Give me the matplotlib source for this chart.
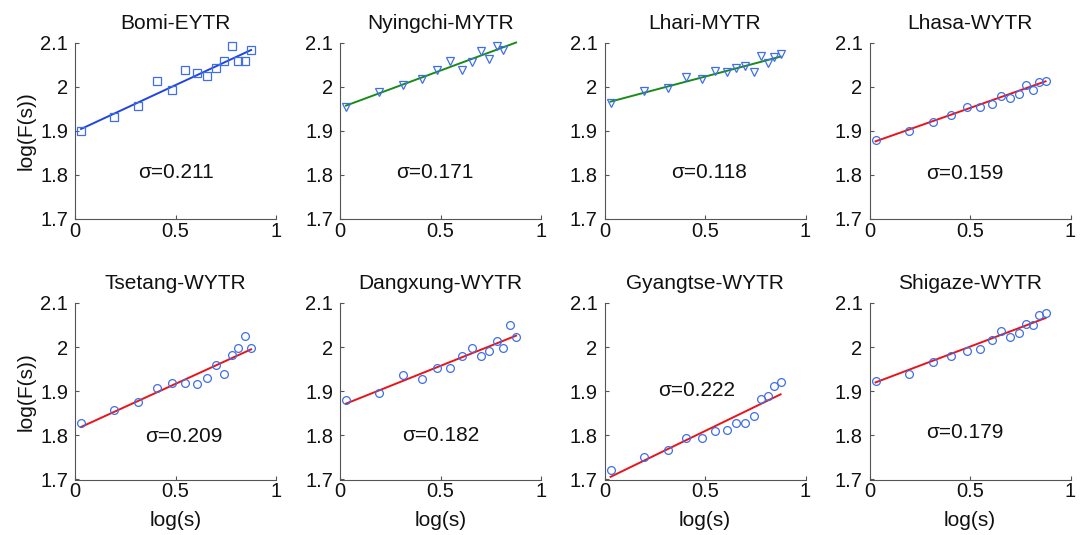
import matplotlib
matplotlib.use("Agg")
import matplotlib.pyplot as plt
from matplotlib.ticker import FixedLocator, FuncFormatter

plt.rcParams['font.family'] = ['Liberation Sans', 'DejaVu Sans']

# ---- data ----
titles = ["Bomi-EYTR", "Nyingchi-MYTR", "Lhari-MYTR", "Lhasa-WYTR",
          "Tsetang-WYTR", "Dangxung-WYTR", "Gyangtse-WYTR", "Shigaze-WYTR"]
sigmas = ["0.211", "0.171", "0.118", "0.159", "0.209", "0.182", "0.222", "0.179"]

log_s = [0.03, 0.195, 0.315, 0.407, 0.484, 0.549, 0.607, 0.656, 0.701, 0.742,
         0.779, 0.812, 0.845, 0.876]

bomi = [1.900, 1.931, 1.957, 2.013, 1.993, 2.037, 2.031, 2.024, 2.043, 2.058,
        2.091, 2.058, 2.058, 2.082]
nyingchi = [1.954, 1.988, 2.003, 2.018, 2.037, 2.058, 2.038, 2.055, 2.081, 2.063,
            2.093, 2.082]
lhari = [1.964, 1.991, 1.998, 2.022, 2.018, 2.036, 2.034, 2.043, 2.046, 2.034,
         2.070, 2.053, 2.068, 2.074]
lhasa = [1.880, 1.900, 1.920, 1.935, 1.953, 1.954, 1.961, 1.978, 1.975, 1.984,
         2.004, 1.993, 2.010, 2.012]
tsetang = [1.829, 1.858, 1.876, 1.908, 1.919, 1.919, 1.916, 1.931, 1.960, 1.939,
           1.983, 1.997, 2.025, 1.999]
dangxung = [1.880, 1.897, 1.936, 1.928, 1.952, 1.953, 1.980, 1.997, 1.980, 1.991,
            2.014, 1.999, 2.051, 2.024]
gyangtse = [1.721, 1.752, 1.766, 1.795, 1.794, 1.809, 1.812, 1.829, 1.829, 1.843,
            1.883, 1.889, 1.911, 1.920]
shigaze = [1.923, 1.940, 1.966, 1.981, 1.991, 1.996, 2.017, 2.037, 2.022, 2.033,
           2.053, 2.051, 2.072, 2.078]

series = [bomi, nyingchi, lhari, lhasa, tsetang, dangxung, gyangtse, shigaze]
markers = ["s", "v", "v", "o", "o", "o", "o", "o"]

# fitted line end points (x from fit_x[0] to fit_x[1])
fit_x = [0.03, 0.876]
fit_y0 = [1.904, 1.957, 1.966, 1.876, 1.819, 1.872, 1.706, 1.920]
fit_y1 = [2.083, 2.100, 2.068, 2.012, 1.995, 2.026, 1.893, 2.066]
fit_colors = ["#1f45e0", "#1a8a1a", "#1a8a1a", "#e8141a",
              "#e8141a", "#e8141a", "#e8141a", "#e8141a"]

# sigma annotation positions (data coords)
sig_x = [0.504, 0.473, 0.518, 0.474, 0.539, 0.503, 0.459, 0.474]
sig_y = [1.806, 1.806, 1.806, 1.804, 1.797, 1.800, 1.902, 1.806]

xticks = [0, 0.5, 1]
yticks = [1.7, 1.8, 1.9, 2.0, 2.1]

# ---- figure ----
W, H = 1086, 535
fig = plt.figure(figsize=(W / 100, H / 100), dpi=100)
lefts = [75, 340, 604.5, 869.5]
bottoms = [H - 219, H - 479.5]
aw, ah = 201, 176.5

marker_color = "#3f6fe8"
fs = 15
tfs = 14.5
msizes = {"s": 5.3, "v": 6.0, "o": 5.6}

fmt = FuncFormatter(lambda v, p: "%g" % round(v, 3))

for i in range(8):
    r, c = divmod(i, 4)
    ax = fig.add_axes([lefts[c] / W, bottoms[r] / H, aw / W, ah / H])
    ys = series[i]
    ax.plot(log_s[:len(ys)], ys, linestyle="none", marker=markers[i],
            markersize=msizes[markers[i]], markerfacecolor="none",
            markeredgecolor=marker_color, markeredgewidth=0.9, zorder=3,
            clip_on=False)
    ax.plot(fit_x, [fit_y0[i], fit_y1[i]], color=fit_colors[i], linewidth=1.4,
            zorder=2, clip_on=False)
    ax.text(sig_x[i], sig_y[i], "σ=" + sigmas[i], ha="center", va="center",
            fontsize=fs, color="#111111")
    ax.set_xlim(0, 1)
    ax.set_ylim(1.7, 2.1)
    ax.xaxis.set_major_locator(FixedLocator(xticks))
    ax.yaxis.set_major_locator(FixedLocator(yticks))
    ax.xaxis.set_major_formatter(fmt)
    ax.yaxis.set_major_formatter(fmt)
    ax.spines["top"].set_visible(False)
    ax.spines["right"].set_visible(False)
    for s in ("left", "bottom"):
        ax.spines[s].set_color("#555555")
        ax.spines[s].set_linewidth(0.8)
    ax.tick_params(direction="in", length=3, width=0.8, color="#555555",
                   labelsize=tfs, labelcolor="#111111")
    ax.tick_params(axis="x", pad=2)
    ax.tick_params(axis="y", pad=5)
    ax.set_title(titles[i], fontsize=fs, pad=10, color="#111111")
    if c == 0:
        ax.set_ylabel("log(F(s))", fontsize=fs, color="#111111", labelpad=3)
    if r == 1:
        ax.set_xlabel("log(s)", fontsize=fs, color="#111111", labelpad=7)
    ax.patch.set_visible(False)

fig.savefig("out.png", dpi=100, facecolor="white")
